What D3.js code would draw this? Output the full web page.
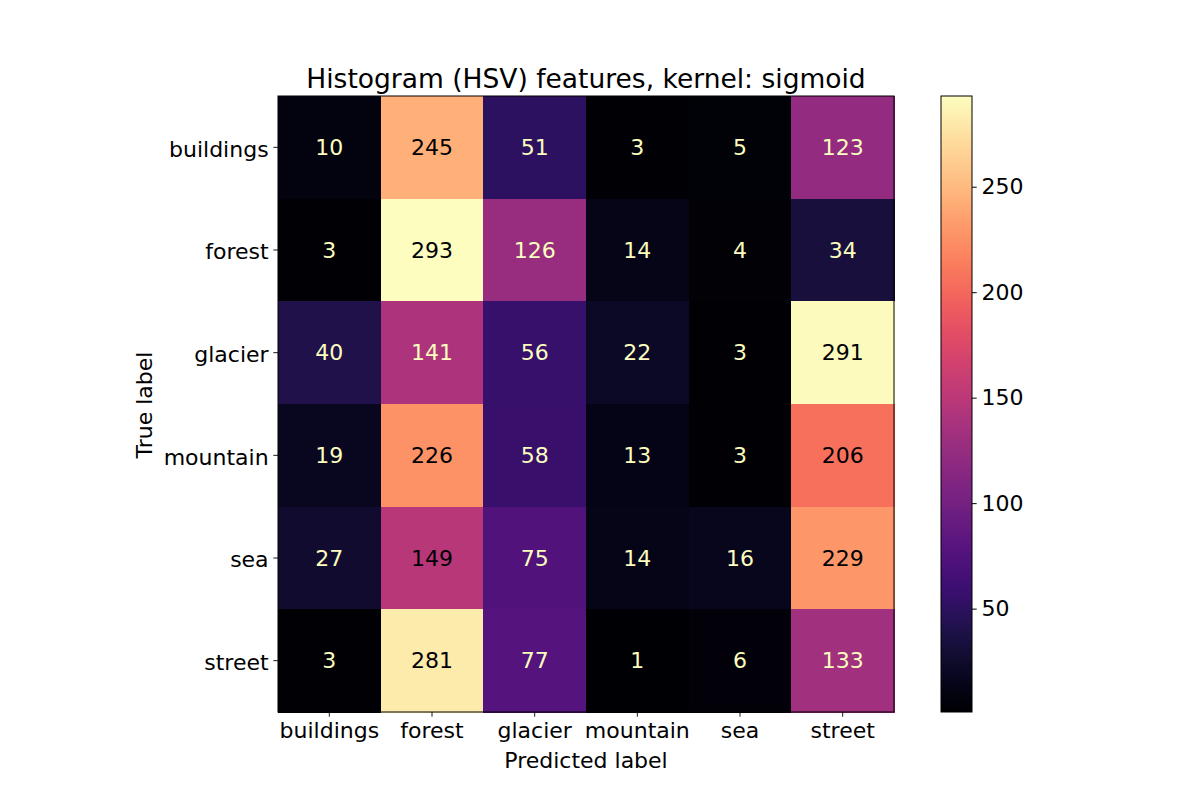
<!DOCTYPE html>
<html><head><meta charset="utf-8">
<script src="https://cdn.jsdelivr.net/npm/d3@7"></script>
<style>body{margin:0;background:#fff}text{font-family:"DejaVu Sans",sans-serif}</style>
</head><body>
<svg id="c" width="1200" height="800"></svg>
<script>
const labels = ["buildings","forest","glacier","mountain","sea","street"];
const matrix = [
  [10,245,51,3,5,123],
  [3,293,126,14,4,34],
  [40,141,56,22,3,291],
  [19,226,58,13,3,206],
  [27,149,75,14,16,229],
  [3,281,77,1,6,133]
];
const cbTicks = [50,100,150,200,250];
const title = "Histogram (HSV) features, kernel: sigmoid";

const svg = d3.select("#c");
const L=278, T=96, W=616, H=616;
const flat = matrix.flat();
const vmin = d3.min(flat), vmax = d3.max(flat);
const color = d3.scaleSequential(d3.interpolateMagma).domain([vmin, vmax]);
const x = d3.scaleBand().domain(labels).range([L, L+W]);
const y = d3.scaleBand().domain(labels).range([T, T+H]);
const fs = 22;

const cells = [];
matrix.forEach((row,i)=>row.forEach((v,j)=>cells.push({r:labels[i],c:labels[j],v})));
svg.append("g").attr("shape-rendering","crispEdges").selectAll("rect").data(cells).join("rect")
  .attr("x",d=>x(d.c)).attr("y",d=>y(d.r))
  .attr("width",x.bandwidth()+1).attr("height",y.bandwidth()+1)
  .attr("fill",d=>color(d.v));
const thresh = (vmin+vmax)/2;
svg.append("g").selectAll("text").data(cells).join("text")
  .attr("x",d=>x(d.c)+x.bandwidth()/2).attr("y",d=>y(d.r)+y.bandwidth()/2)
  .attr("text-anchor","middle").attr("dominant-baseline","central")
  .attr("font-size",fs)
  .attr("fill",d=>d.v<thresh? d3.interpolateMagma(1): d3.interpolateMagma(0))
  .text(d=>d.v);
svg.append("rect").attr("x",L).attr("y",T).attr("width",W).attr("height",H)
  .attr("fill","none").attr("stroke","#000").attr("stroke-width",1);

const xa = svg.append("g").attr("transform",`translate(0,${T+H})`)
  .call(d3.axisBottom(x).tickSize(4.7).tickPadding(6));
const ya = svg.append("g").attr("transform",`translate(${L},0)`)
  .call(d3.axisLeft(y).tickSize(4.7).tickPadding(4.7));
[xa,ya].forEach(a=>{a.select(".domain").remove();a.attr("font-size",null).attr("font-family",null);
  a.selectAll("text").style("font-size",fs+"px").style("font-family","DejaVu Sans").attr("fill","#000");
  a.selectAll("line").attr("stroke","#000").attr("stroke-width",0.9);});
ya.selectAll("text").attr("dy","0.42em");

svg.append("text").attr("x",L+W/2).attr("y",88).attr("text-anchor","middle")
  .style("font-size","26.5px").text(title);
svg.append("text").attr("x",L+W/2).attr("y",768).attr("text-anchor","middle")
  .style("font-size",fs+"px").text("Predicted label");
svg.append("text").attr("transform",`translate(152,${T+H/2+1}) rotate(-90)`).attr("text-anchor","middle")
  .style("font-size",fs+"px").text("True label");

// colorbar
const CX=941, CW=31;
const cs = d3.scaleLinear().domain([vmin,vmax]).range([T+H,T]);
const defs = svg.append("defs");
const grad = defs.append("linearGradient").attr("id","g").attr("x1",0).attr("x2",0).attr("y1",1).attr("y2",0);
d3.range(0,1.0001,0.02).forEach(t=>grad.append("stop").attr("offset",t).attr("stop-color",d3.interpolateMagma(t)));
svg.append("rect").attr("x",CX).attr("y",T).attr("width",CW).attr("height",H).attr("fill","url(#g)")
  .attr("stroke","#000").attr("stroke-width",1);
const ca = svg.append("g").attr("transform",`translate(${CX+CW},0)`)
  .call(d3.axisRight(cs).tickValues(cbTicks).tickSize(4.7).tickPadding(4.7));
ca.select(".domain").remove();ca.attr("font-size",null).attr("font-family",null);
ca.selectAll("text").style("font-size",fs+"px").style("font-family","DejaVu Sans").attr("fill","#000");
ca.selectAll("line").attr("stroke","#000");
</script>
</body></html>
